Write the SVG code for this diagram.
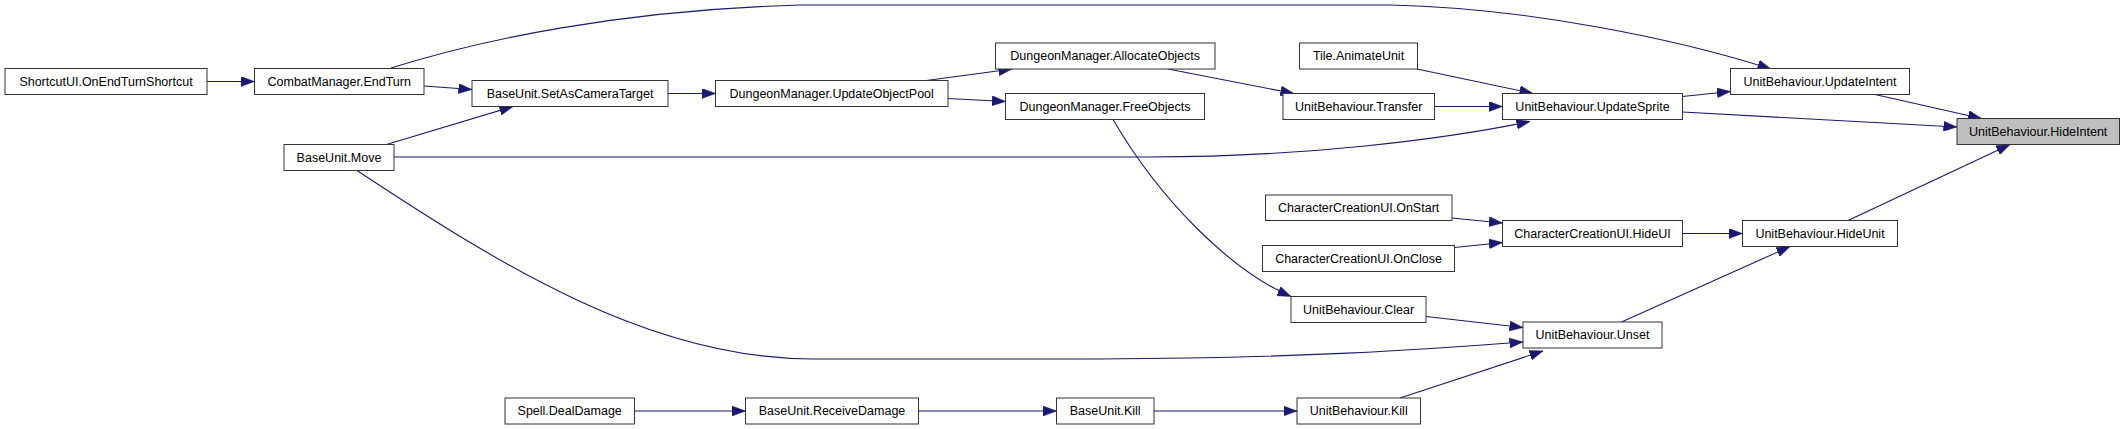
<svg xmlns="http://www.w3.org/2000/svg" width="2125" height="429" viewBox="0 0 2125 429">
<style>
.n rect{fill:#ffffff;stroke:#333333;stroke-width:1}
.n.hl rect{fill:#bfbfbf}
.n text{font-family:"Liberation Sans",Arial,Helvetica,sans-serif;font-size:12.5px;fill:#000000;text-anchor:middle}
.e path{fill:none;stroke:#191970;stroke-width:1.1;marker-end:url(#ah)}
</style>
<defs>
<marker id="ah" markerUnits="userSpaceOnUse" viewBox="0 0 13.5 10" refX="13.5" refY="5" markerWidth="13.5" markerHeight="10" orient="auto">
<path d="M0,0 L13.5,5 L0,10 z" fill="#191970" stroke="#191970" stroke-width="0.5"/>
</marker>
</defs>
<rect x="0" y="0" width="2125" height="429" fill="#ffffff"/>
<g id="edges" class="e">
<path d="M207,81.5 L254.5,81.5"/>
<path d="M424,86 L472,89.5"/>
<path d="M386.5,144.5 L513,106.5"/>
<path d="M391,68 C480,40 620,10 800,5 L1390,5 C1530,8 1680,40 1771,69"/>
<path d="M668,93.5 L715.5,93.5"/>
<path d="M926.5,80.5 L1012,69"/>
<path d="M948,98.5 L1005.5,101.5"/>
<path d="M1168,69 L1294,93.5"/>
<path d="M1417,69 L1533,93.5"/>
<path d="M1434.5,106.5 L1502.5,106.5"/>
<path d="M394,157 L1150,157 C1300,157 1440,140 1530,121.5"/>
<path d="M1682.5,96.5 L1730.5,91.5"/>
<path d="M1682.5,112 L1957,127"/>
<path d="M1875,94.5 L1981.5,118.5"/>
<path d="M1848,220.5 L2010,144.5"/>
<path d="M1451.5,218 L1502.5,223"/>
<path d="M1454.5,247.5 L1502.5,242.5"/>
<path d="M1682.5,233.5 L1742.5,233.5"/>
<path d="M1621.5,322 L1790,246.5"/>
<path d="M1113,119.5 C1160,200 1230,270 1291,296.5"/>
<path d="M357,170.5 C500,265 650,359 813,359 L1100,359 C1300,358 1420,350 1523,342"/>
<path d="M1426,316.5 L1523,327.5"/>
<path d="M1400,398 L1543,351"/>
<path d="M634.5,411 L745.5,411"/>
<path d="M918.5,411 L1056.5,411"/>
<path d="M1154,411 L1297,411"/>
</g>
<g id="n_shortcut" class="n"><rect x="5" y="68.5" width="202" height="26"/><text x="106" y="85.5">ShortcutUI.OnEndTurnShortcut</text></g>
<g id="n_endturn" class="n"><rect x="254.5" y="68.5" width="169.5" height="26"/><text x="339.2" y="85.5">CombatManager.EndTurn</text></g>
<g id="n_camtarget" class="n"><rect x="472" y="80.5" width="196" height="26"/><text x="570" y="97.5">BaseUnit.SetAsCameraTarget</text></g>
<g id="n_move" class="n"><rect x="284" y="144.5" width="110" height="26"/><text x="339" y="161.5">BaseUnit.Move</text></g>
<g id="n_pool" class="n"><rect x="715.5" y="80.5" width="232.5" height="26"/><text x="831.7" y="97.5">DungeonManager.UpdateObjectPool</text></g>
<g id="n_alloc" class="n"><rect x="995.5" y="43" width="219.5" height="26"/><text x="1105.2" y="60">DungeonManager.AllocateObjects</text></g>
<g id="n_free" class="n"><rect x="1005.5" y="93.5" width="199" height="26"/><text x="1105" y="110.5">DungeonManager.FreeObjects</text></g>
<g id="n_animate" class="n"><rect x="1299.5" y="43" width="118" height="26"/><text x="1358.5" y="60">Tile.AnimateUnit</text></g>
<g id="n_transfer" class="n"><rect x="1283" y="93.5" width="151.5" height="26"/><text x="1358.7" y="110.5">UnitBehaviour.Transfer</text></g>
<g id="n_sprite" class="n"><rect x="1502.5" y="93.5" width="180" height="26"/><text x="1592.5" y="110.5">UnitBehaviour.UpdateSprite</text></g>
<g id="n_intent" class="n"><rect x="1730.5" y="68.5" width="179" height="26"/><text x="1820" y="85.5">UnitBehaviour.UpdateIntent</text></g>
<g id="n_hideintent" class="n hl"><rect x="1957" y="118.5" width="162.5" height="26"/><text x="2038.2" y="135.5">UnitBehaviour.HideIntent</text></g>
<g id="n_onstart" class="n"><rect x="1265.5" y="195" width="186.5" height="25.5"/><text x="1358.7" y="212">CharacterCreationUI.OnStart</text></g>
<g id="n_onclose" class="n"><rect x="1262.5" y="245.5" width="192" height="26"/><text x="1358.5" y="262.5">CharacterCreationUI.OnClose</text></g>
<g id="n_hideui" class="n"><rect x="1502.5" y="220.5" width="180" height="26"/><text x="1592.5" y="237.5">CharacterCreationUI.HideUI</text></g>
<g id="n_hideunit" class="n"><rect x="1742.5" y="220.5" width="155" height="26"/><text x="1820" y="237.5">UnitBehaviour.HideUnit</text></g>
<g id="n_clear" class="n"><rect x="1291" y="296.5" width="135" height="26"/><text x="1358.5" y="313.5">UnitBehaviour.Clear</text></g>
<g id="n_unset" class="n"><rect x="1523" y="322" width="139" height="26"/><text x="1592.5" y="339">UnitBehaviour.Unset</text></g>
<g id="n_spell" class="n"><rect x="505" y="398" width="129.5" height="26"/><text x="569.7" y="415">Spell.DealDamage</text></g>
<g id="n_recv" class="n"><rect x="745.5" y="398" width="173" height="26"/><text x="832" y="415">BaseUnit.ReceiveDamage</text></g>
<g id="n_bkill" class="n"><rect x="1056.5" y="398" width="97.5" height="26"/><text x="1105.2" y="415">BaseUnit.Kill</text></g>
<g id="n_ukill" class="n"><rect x="1297" y="398" width="123.5" height="26"/><text x="1358.7" y="415">UnitBehaviour.Kill</text></g>
</svg>
